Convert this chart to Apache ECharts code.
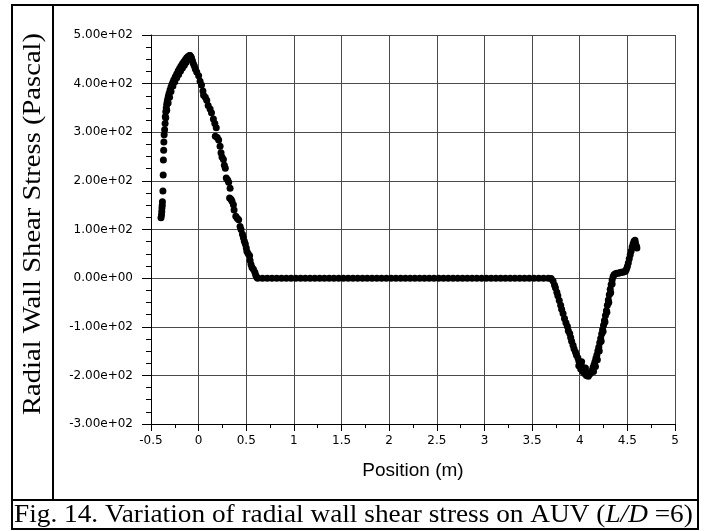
<!DOCTYPE html>
<html>
<head>
<meta charset="utf-8">
<script src="https://cdn.jsdelivr.net/npm/echarts@6/dist/echarts.min.js"></script>
<style>html,body{margin:0;padding:0;background:#fff;}#c{width:706px;height:531px;}</style>
</head>
<body>
<div id="c"></div>
<script>
// Tick settings
const xTicks = { min: -0.5, max: 5, interval: 0.5 };
const yTicks = { min: -300, max: 500, interval: 100 };

// Data: [position (m), radial wall shear stress (Pa)]
const noseRise = [
  [-0.395,124],[-0.39,130],[-0.387,137],[-0.385,144],[-0.382,150],[-0.38,157],[-0.375,179],
  [-0.372,212],[-0.37,243],[-0.367,263],[-0.365,280],[-0.362,295],[-0.357,305],[-0.352,318],
  [-0.35,332],[-0.345,342],[-0.34,350],[-0.335,357],[-0.33,362],[-0.325,368],[-0.318,374],
  [-0.31,380],[-0.3,387],[-0.29,393],[-0.28,398],[-0.27,403],[-0.26,408],[-0.245,414],
  [-0.23,420],[-0.215,426],[-0.2,431],[-0.185,436],[-0.17,441],[-0.155,445],[-0.14,449],
  [-0.125,453],[-0.11,456],[-0.095,458],
  [-0.345,330],[-0.335,345],[-0.32,360],[-0.305,372],[-0.29,384],[-0.27,395],[-0.25,404],
  [-0.23,412],[-0.21,419],[-0.19,426],[-0.17,432],[-0.15,438],[-0.13,444],[-0.11,449],
  [-0.09,452],[-0.08,455],[-0.09,458],[-0.085,455]
];
const noseFall = [
  [-0.075,452],[-0.065,447],[-0.055,441],[-0.045,436],[-0.035,430],[-0.02,424],[0,416],
  [0.015,405],[0.03,397],[0.045,385],[0.052,376],[0.07,372],[0.085,366],[0.1,355],[0.12,348],
  [0.135,340],[0.155,327],[0.17,318],[0.185,309],[0.175,292],[0.195,289],[0.21,284],[0.225,271],
  [0.235,258],[0.245,249],[0.26,244],[0.27,232],[0.28,226],[0.29,206],[0.305,202],[0.315,197],
  [0.33,185],[0.325,165],[0.34,162],[0.35,158],[0.365,151],[0.372,140],[0.39,127],[0.405,123],
  [0.42,120],[0.435,106],[0.445,100],[0.46,90],[0.47,83],[0.48,76],[0.49,70],[0.5,62],
  [0.507,55],[0.52,50],[0.535,46],[0.54,36],[0.55,28],[0.56,22],[0.575,18],[0.59,12],
  [0.6,6],[0.61,2]
];
const midBody = [
  [0.62,0],[0.67,0],[0.72,0],[0.77,0],[0.82,0],[0.87,0],[0.92,0],[0.97,0],[1.02,0],[1.07,0],
  [1.12,0],[1.17,0],[1.22,0],[1.27,0],[1.32,0],[1.37,0],[1.42,0],[1.47,0],[1.52,0],[1.57,0],
  [1.62,0],[1.67,0],[1.72,0],[1.77,0],[1.82,0],[1.87,0],[1.92,0],[1.97,0],[2.02,0],[2.07,0],
  [2.12,0],[2.17,0],[2.22,0],[2.27,0],[2.32,0],[2.37,0],[2.42,0],[2.47,0],[2.52,0],[2.57,0],
  [2.62,0],[2.67,0],[2.72,0],[2.77,0],[2.82,0],[2.87,0],[2.92,0],[2.97,0],[3.02,0],[3.07,0],
  [3.12,0],[3.17,0],[3.22,0],[3.27,0],[3.32,0],[3.37,0],[3.42,0],[3.47,0],[3.52,0],[3.57,0],
  [3.62,0],[3.67,0]
];
const tailDip = [
  [3.7,-1],[3.72,-6],[3.735,-14],[3.745,-20],[3.76,-29],[3.77,-36],[3.785,-46],[3.8,-56],
  [3.81,-64],[3.825,-73],[3.84,-83],[3.855,-92],[3.87,-99],[3.88,-108],[3.895,-114],
  [3.905,-122],[3.915,-130],[3.93,-138],[3.94,-145],[3.955,-152],[3.965,-158],[3.98,-164],
  [3.99,-170],[4.0,-175],[4.015,-180],[4.03,-184],[4.045,-188],[4.06,-192],[4.075,-195],
  [4.09,-197],[4.1,-198],[4.11,-196],[4.12,-194],
  [3.99,-180],[4.01,-187],[4.03,-192],[4.05,-196],[4.07,-200],[4.09,-202],[4.02,-172],[4.06,-185]
];
const tailRise = [
  [4.13,-190],[4.14,-184],[4.15,-178],[4.16,-172],[4.17,-165],[4.18,-158],[4.19,-150],
  [4.2,-142],[4.21,-133],[4.22,-124],[4.23,-115],[4.24,-106],[4.25,-97],[4.26,-87],
  [4.27,-77],[4.28,-67],[4.29,-56],[4.3,-45],[4.31,-34],[4.32,-23],[4.33,-13],[4.34,-4],
  [4.35,3],[4.36,7],[4.375,9],[4.39,10],[4.405,10],[4.42,11],[4.435,12],[4.45,12],
  [4.465,13],[4.48,14],[4.49,18],[4.5,24],[4.51,31],[4.52,40],[4.53,48],[4.54,56],
  [4.55,64],[4.56,70],[4.57,76],[4.58,78],[4.585,72],[4.595,66],[4.6,62],
  [4.145,-192],[4.165,-182],[4.185,-168],[4.205,-150],[4.225,-130],[4.245,-110],
  [4.265,-90],[4.285,-70],[4.305,-50],[4.325,-30],[4.34,-12]
];

const yTitle = 'Radial Wall Shear Stress (Pascal)';
const xTitle = 'Position (m)';

function expFmt(v) {
  const s = Number(v).toExponential(2);
  return s.replace(/e([+-])(\d)$/, 'e$10$2');
}

const chart = echarts.init(document.getElementById('c'), null, { renderer: 'canvas' });
const tickFont = { fontFamily: 'DejaVu Sans', fontSize: 12, color: '#000' };
const markerStyle = { color: '#000', opacity: 1 };

chart.setOption({
  animation: false,
  backgroundColor: '#fff',
  grid: { left: 151, right: 31, top: 35, bottom: 107, containLabel: false },
  xAxis: {
    type: 'value', min: xTicks.min, max: xTicks.max, interval: xTicks.interval,
    name: xTitle, nameLocation: 'middle', nameGap: 37,
    nameTextStyle: { fontFamily: 'Liberation Sans', fontSize: 19, color: '#000' },
    axisLine: { show: true, onZero: false, lineStyle: { color: '#000', width: 1 } },
    axisTick: { show: true, inside: false, length: 7, lineStyle: { color: '#000' } },
    minorTick: { show: true, splitNumber: 2, length: 4, lineStyle: { color: '#000' } },
    splitLine: { show: true, lineStyle: { color: '#4a4a4a', width: 1 } },
    axisLabel: Object.assign({ margin: 11, formatter: v => String(v) }, tickFont)
  },
  yAxis: {
    type: 'value', min: yTicks.min, max: yTicks.max, interval: yTicks.interval,
    axisLine: { show: true, onZero: false, lineStyle: { color: '#000', width: 1 } },
    axisTick: { show: true, inside: false, length: 9, lineStyle: { color: '#000' } },
    minorTick: { show: true, splitNumber: 4, length: 5, lineStyle: { color: '#000' } },
    splitLine: { show: true, lineStyle: { color: '#4a4a4a', width: 1 } },
    axisLabel: Object.assign({ margin: 18, formatter: expFmt }, tickFont)
  },
  graphic: [
    { type: 'rect', shape: { x: 12, y: 5, width: 686, height: 524 },
      style: { fill: 'none', stroke: '#000', lineWidth: 2 }, silent: true },
    { type: 'line', shape: { x1: 53, y1: 5, x2: 53, y2: 500 },
      style: { stroke: '#000', lineWidth: 2 }, silent: true },
    { type: 'line', shape: { x1: 12, y1: 500, x2: 698, y2: 500 },
      style: { stroke: '#000', lineWidth: 2 }, silent: true },
    { type: 'text', x: 33, y: 224, rotation: Math.PI / 2, scaleX: 1.1, scaleY: 1,
      style: { text: yTitle, font: '26px "Liberation Serif"', fill: '#000',
               align: 'center', verticalAlign: 'middle' }, silent: true },
    { type: 'text', x: 14, y: 515, scaleX: 1.092, scaleY: 1,
      style: {
        text: '{n|Fig. 14. Variation of radial wall shear stress on AUV (}{i|L/D}{n| =6)}',
        rich: {
          n: { fontFamily: 'Liberation Serif', fontSize: 25, fill: '#000' },
          i: { fontFamily: 'Liberation Serif', fontSize: 25, fontStyle: 'italic', fill: '#000' }
        },
        fill: '#000', align: 'left', verticalAlign: 'middle'
      }, silent: true }
  ],
  series: [noseRise, noseFall, midBody, tailDip, tailRise].map(d => ({
    type: 'scatter', data: d, symbol: 'circle', symbolSize: 7,
    itemStyle: markerStyle, silent: true
  }))
});
</script>
</body>
</html>
